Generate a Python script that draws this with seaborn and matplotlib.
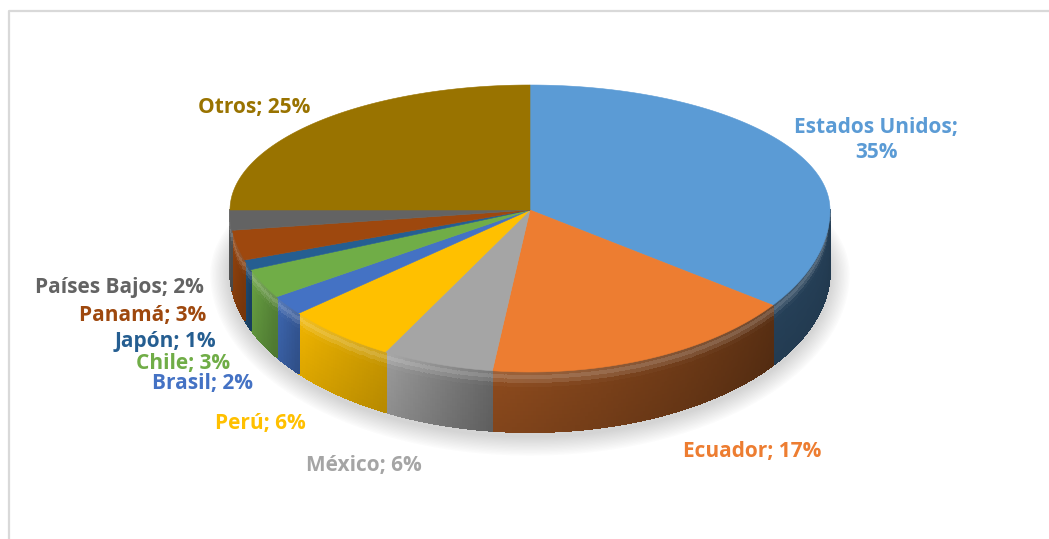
import numpy as np
import seaborn as sns
import matplotlib.pyplot as plt
from matplotlib.patches import Polygon
from matplotlib.collections import PolyCollection

# ------------------------------------------------------------
# datos
# ------------------------------------------------------------
paises = ["Estados Unidos", "Ecuador", "México", "Perú", "Brasil",
          "Chile", "Japón", "Panamá", "Países Bajos", "Otros"]
porcentajes = [35, 17, 6, 6, 2, 3, 1, 3, 2, 25]
colores = ["#5B9BD5", "#ED7D31", "#A5A5A5", "#FFC000", "#4472C4",
           "#70AD47", "#255E91", "#9E480E", "#636363", "#997300"]

# ------------------------------------------------------------
# estilo / geometria (pixeles de la figura)
# ------------------------------------------------------------
sns.set_theme(style="white")
plt.rcParams['font.family'] = ['Open Sans', 'DejaVu Sans']
paleta = sns.color_palette(colores)

cx, cy = 530, 210          # centro de la cara superior
rx, ry_top, ry_bot = 300, 125, 162
depth = 60

# sombreado del lateral (izquierda, derecha) por porcion
sombra_lateral = [(0.42, 0.36), (0.60, 0.38), (0.95, 0.62), (0.95, 0.78), (0.92, 0.75),
                  (0.95, 0.75), (0.85, 0.70), (0.95, 0.80), (0.95, 0.80), (0.8, 0.8)]

# posicion de las etiquetas (centro del texto)
pos_etiquetas = [(876, 140), (752, 452), (364, 466), (260, 423), (202, 384),
                 (183, 363), (165, 341), (143, 316), (119, 288), (254, 108)]


def punto(theta, dx=0.0, dy=0.0, sx=0.0):
    t = np.radians(theta)
    s = np.sin(t)
    ry = np.where(s > 0, ry_top, ry_bot) + sx
    return cx + (rx + sx) * np.cos(t) + dx, cy - ry * s + dy


fig = plt.figure(figsize=(10.49, 5.39), dpi=100)
ax = fig.add_axes([0, 0, 1, 1])
ax.set_xlim(0, 1049)
ax.set_ylim(539, 0)
ax.axis('off')

# marco del area del grafico
ax.plot([9, 9, 1049], [539, 11, 11], color="#D9D9D9", lw=1.6, solid_capstyle='butt')

# sombra difusa bajo la tarta
th = np.linspace(-180, 180, 361)
for k in range(14, 0, -1):
    x, y = punto(th, dx=0, dy=depth + 4, sx=k * 1.4)
    ax.fill(x, y, color="#7F7F7F", alpha=0.025, lw=0, zorder=1)

# angulos de cada porcion (empieza arriba, sentido horario)
acum = np.concatenate([[0], np.cumsum(porcentajes)])
inicio = 90 - 3.6 * acum[:-1]
fin = 90 - 3.6 * acum[1:]

# laterales
polys, cols = [], []
bandas = np.linspace(0, 1, 16)
for i, (a0, a1) in enumerate(zip(inicio, fin)):
    base = np.array(paleta[i])
    lo, hi = a1, a0                     # lo = extremo izquierdo en pantalla
    v_lo, v_hi = max(lo, -180), min(hi, 0)
    if v_hi <= v_lo:
        continue
    fl, fr = sombra_lateral[i]
    steps = np.arange(v_lo, v_hi + 1e-9, 0.5)
    if steps[-1] < v_hi:
        steps = np.append(steps, v_hi)
    for j in range(len(steps) - 1):
        t0, t1 = steps[j], steps[j + 1]
        tt = ((t0 + t1) / 2 - lo) / (hi - lo)
        f = fl + (fr - fl) * tt
        x0, y0 = punto(t0)
        x1, y1 = punto(t1)
        for b in range(len(bandas) - 1):
            v0, v1 = bandas[b], bandas[b + 1]
            vm = (v0 + v1) / 2
            c = np.clip(base * f * (1 - 0.08 * vm), 0, 1)
            # brillo suave del bisel
            h = 0.22 * np.exp(-((vm - 0.10) / 0.09) ** 2)
            c = c + (1 - c) * h
            polys.append([(x0, y0 + depth * v0), (x1, y1 + depth * v0),
                          (x1, y1 + depth * v1), (x0, y0 + depth * v1)])
            cols.append(c)
ax.add_collection(PolyCollection(polys, facecolors=cols, edgecolors='face',
                                 linewidths=0.8, antialiaseds=False, zorder=2))

# cara superior
for i, (a0, a1) in enumerate(zip(inicio, fin)):
    arco = np.linspace(a0, a1, max(int(abs(a0 - a1) * 2), 4))
    x, y = punto(arco)
    pts = [(cx, cy)] + list(zip(x, y))
    ax.add_patch(Polygon(pts, closed=True, facecolor=paleta[i],
                         edgecolor=paleta[i], lw=0.4, zorder=3))

# etiquetas
for i, (p, v) in enumerate(zip(paises, porcentajes)):
    txt = f"{p};\n{v}%" if p == "Estados Unidos" else f"{p}; {v}%"
    ax.text(*pos_etiquetas[i], txt, color=colores[i], fontsize=15,
            fontweight='bold', ha='center', va='center', linespacing=1.25,
            zorder=5)

fig.savefig("out.png", dpi=100)
